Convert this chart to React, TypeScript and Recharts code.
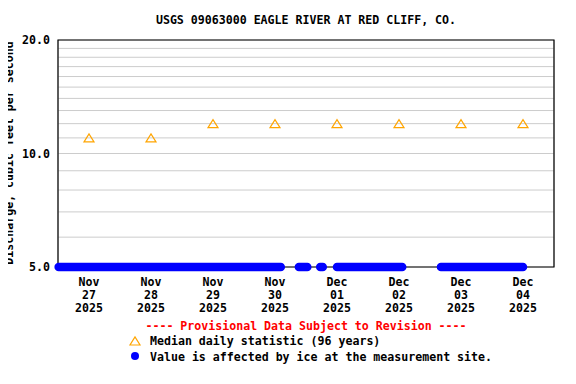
import React from "react";
import {
  ComposedChart,
  Line,
  Scatter,
  XAxis,
  YAxis,
  CartesianGrid,
  ReferenceArea,
} from "recharts";

// Hours measured from Nov 27 2025 00:00
const dayLabels = [
  ["Nov", "27", "2025"],
  ["Nov", "28", "2025"],
  ["Nov", "29", "2025"],
  ["Nov", "30", "2025"],
  ["Dec", "01", "2025"],
  ["Dec", "02", "2025"],
  ["Dec", "03", "2025"],
  ["Dec", "04", "2025"],
];
const labelHours = [12, 36, 60, 84, 108, 132, 156, 180];
const midnightHours = [24, 48, 72, 96, 120, 144, 168];
const medianValues = [11, 11, 12, 12, 12, 12, 12, 12];
// ice-affected value periods [start hour, end hour], value 5.0
const iceSegments: [number, number][] = [
  [0.25, 86.25],
  [93.25, 96.5],
  [101.5, 102.5],
  [108, 133.25],
  [148.25, 180],
];
const iceValue = 5.0;
const yLabelTicks = [5, 10, 20];
const yGridTicks = [5, 6, 7, 8, 9, 10, 11, 12, 13, 14, 15, 16, 17, 18, 19, 20];

const medianData = labelHours.map((t, i) => ({ t, v: medianValues[i] }));
const iceData: { t: number; v: number | null }[] = [];
iceSegments.forEach(([a, b]) => {
  iceData.push({ t: a, v: iceValue });
  iceData.push({ t: b, v: iceValue });
  iceData.push({ t: b + 0.01, v: null });
});

const FONT = "'DejaVu Sans Mono', monospace";
const FS = 11.6;

const Triangle = (props: any) => {
  const { cx, cy } = props;
  if (cx == null || cy == null) return null;
  return (
    <polygon
      points={`${cx - 5},${cy + 4} ${cx + 5},${cy + 4} ${cx},${cy - 4}`}
      fill="none"
      stroke="#FFA500"
      strokeWidth={1.2}
    />
  );
};

const YTick = (props: any) => {
  const { x, y, payload } = props;
  if (!yLabelTicks.includes(payload.value)) return null;
  return (
    <text
      x={x}
      y={y + 4}
      textAnchor="end"
      fontFamily={FONT}
      fontSize={FS}
      fontWeight="bold"
      fill="#000"
    >
      {payload.value.toFixed(1)}
    </text>
  );
};

const XTick = (props: any) => {
  const { x, y, payload } = props;
  const idx = labelHours.indexOf(payload.value);
  if (idx < 0) return null;
  const lines = dayLabels[idx];
  return (
    <text
      x={x}
      y={y}
      textAnchor="middle"
      fontFamily={FONT}
      fontSize={FS}
      fontWeight="bold"
      fill="#000"
    >
      {lines.map((l, i) => (
        <tspan key={i} x={x} dy={i === 0 ? 10 : 13}>
          {l}
        </tspan>
      ))}
    </text>
  );
};

export default function App() {
  return (
    <div style={{ margin: -8 }}>
      <div style={{ position: "relative", width: 576, height: 384, background: "#fff" }}>
        <ComposedChart
          width={576}
          height={384}
          margin={{ top: 40, right: 22, bottom: 0, left: 0 }}
        >
          <CartesianGrid
            stroke="#cccccc"
            strokeWidth={1}
            vertical={true}
            horizontal={true}
          />
          <XAxis
            xAxisId={0}
            type="number"
            dataKey="t"
            domain={[0, 192]}
            ticks={midnightHours}
            tick={false}
            tickLine={false}
            axisLine={false}
            height={1}
          />
          <XAxis
            xAxisId="lab"
            type="number"
            dataKey="t"
            domain={[0, 192]}
            ticks={labelHours}
            tick={<XTick />}
            tickLine={false}
            axisLine={false}
            height={116}
            interval={0}
            allowDataOverflow
          />
          <YAxis
            type="number"
            scale="log"
            domain={[5, 20]}
            ticks={yGridTicks}
            tick={<YTick />}
            tickLine={false}
            axisLine={false}
            width={58}
            interval={0}
          />
          <ReferenceArea
            x1={0}
            x2={192}
            y1={5}
            y2={20}
            fill="none"
            fillOpacity={0}
            stroke="#000"
            strokeWidth={1.2}
            ifOverflow="visible"
          />
          <Scatter
            data={medianData}
            dataKey="v"
            shape={<Triangle />}
            isAnimationActive={false}
          />
          <Line
            data={iceData}
            dataKey="v"
            stroke="#0000FF"
            strokeWidth={8.5}
            strokeLinecap="round"
            dot={false}
            activeDot={false}
            connectNulls={false}
            isAnimationActive={false}
          />
        </ComposedChart>
        <svg
          style={{ position: "absolute", left: 0, top: 0, pointerEvents: "none" }}
          width={576}
          height={384}
        >
          <text
            x={306}
            y={24}
            textAnchor="middle"
            fontFamily={FONT}
            fontSize={FS}
            fontWeight="bold"
            fill="#000"
          >
            USGS 09063000 EAGLE RIVER AT RED CLIFF, CO.
          </text>
          <text
            x={13}
            y={153}
            transform="rotate(-90, 13, 153)"
            textAnchor="middle"
            fontFamily={FONT}
            fontSize={FS}
            fontWeight="bold"
            fill="#000"
          >
            Discharge, cubic feet per second
          </text>
          <text
            x={306}
            y={330}
            textAnchor="middle"
            fontFamily={FONT}
            fontSize={FS}
            fontWeight="bold"
            fill="#ff0000"
            style={{ whiteSpace: "pre" }}
          >
            ---- Provisional Data Subject to Revision ----
          </text>
          <polygon points="130,345 140,345 135,337" fill="none" stroke="#FFA500" strokeWidth={1.2} />
          <circle cx={135} cy={356} r={4} fill="#0000FF" />
          <text x={150} y={345} fontFamily={FONT} fontSize={FS} fontWeight="bold" fill="#000">
            Median daily statistic (96 years)
          </text>
          <text x={150} y={361} fontFamily={FONT} fontSize={FS} fontWeight="bold" fill="#000">
            Value is affected by ice at the measurement site.
          </text>
        </svg>
      </div>
    </div>
  );
}
